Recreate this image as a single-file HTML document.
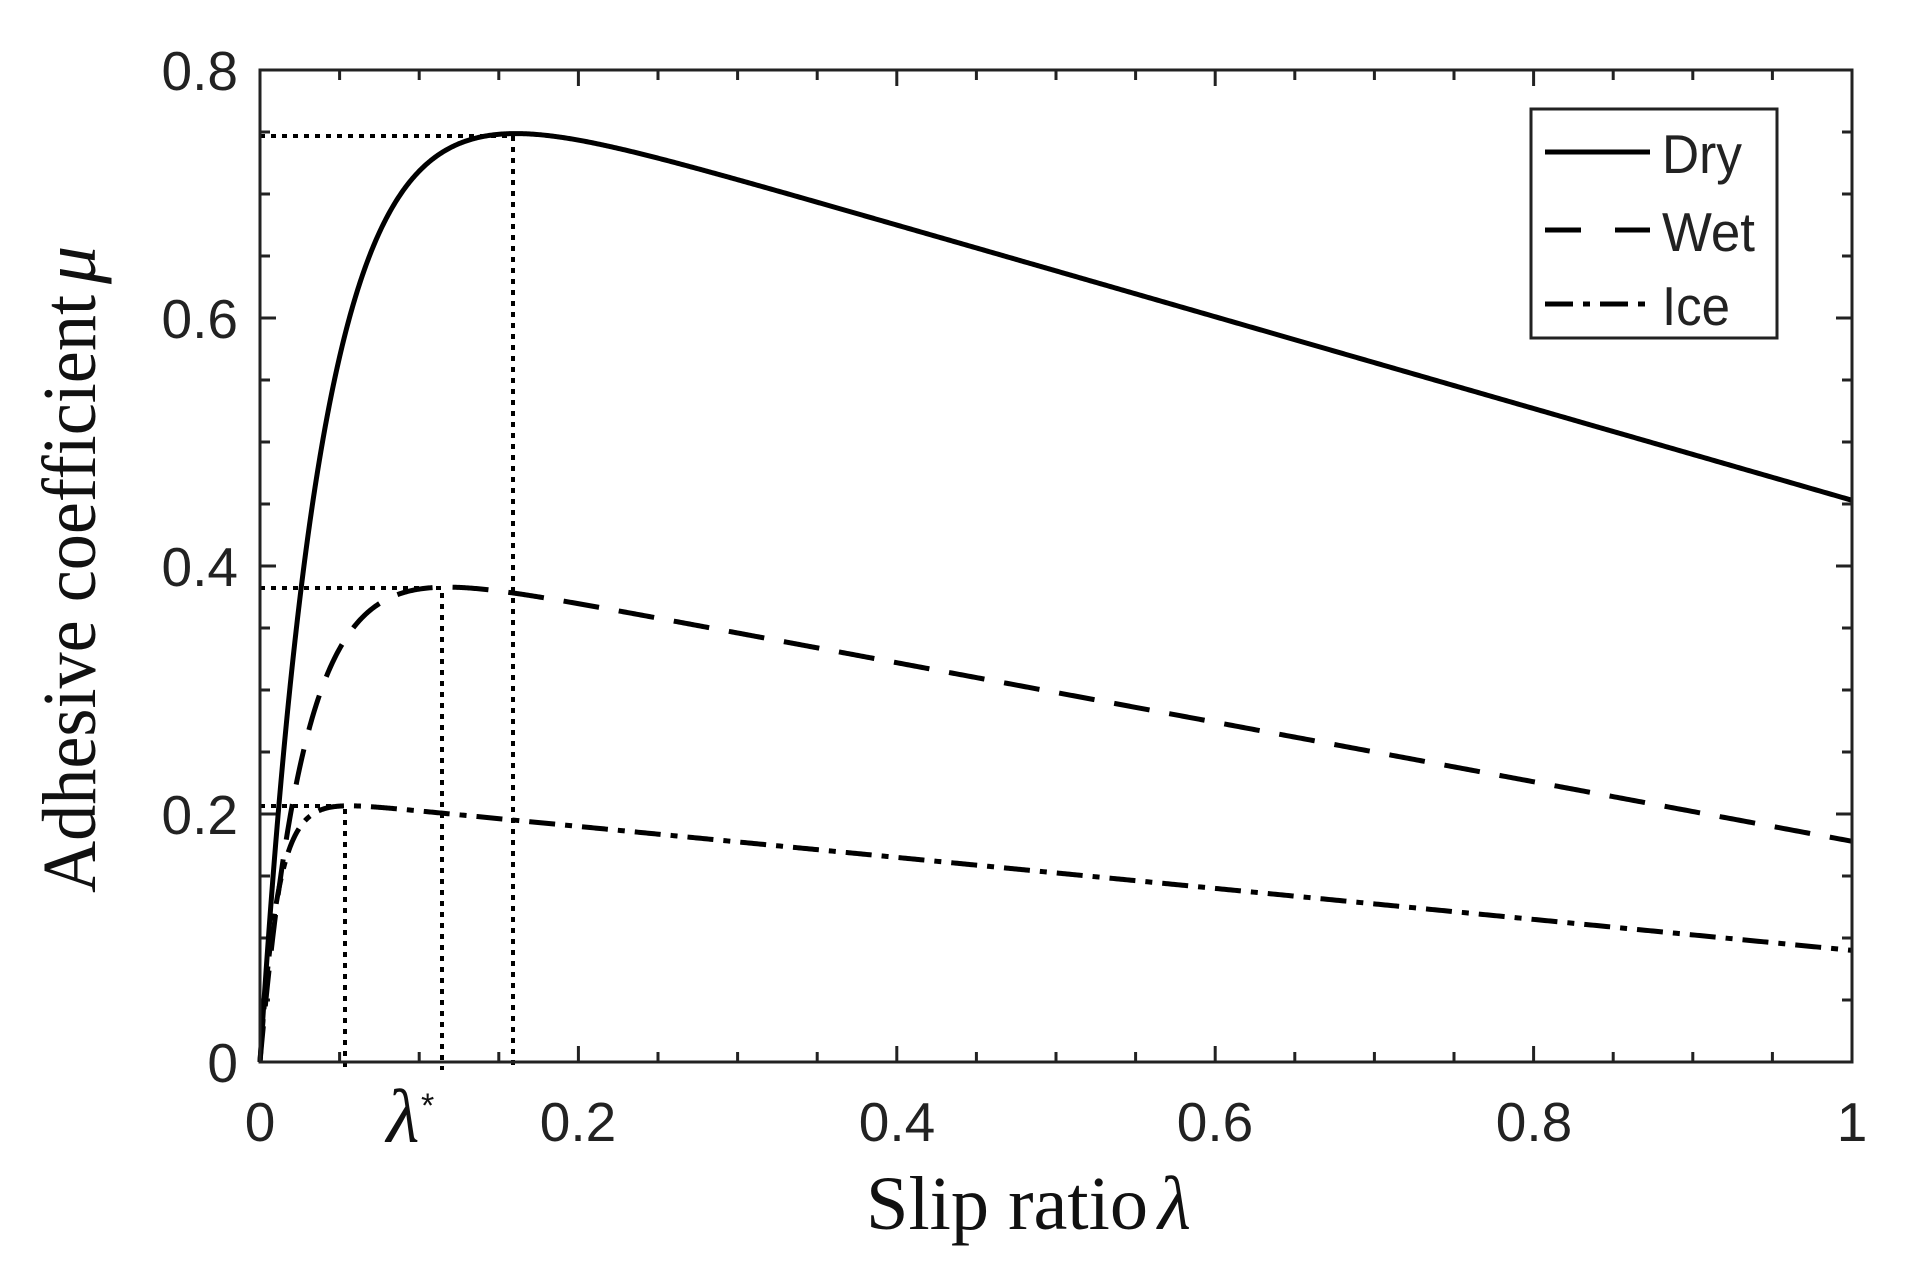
<!DOCTYPE html>
<html><head><meta charset="utf-8"><style>
html,body{margin:0;padding:0;background:#fff;}
svg{display:block}
.tk{font-family:"Liberation Sans",Arial,sans-serif;font-size:55px;fill:#222}
.ser{font-family:"Liberation Serif","Times New Roman",serif;font-size:76px;fill:#111}
</style></head><body>
<svg id="s" width="1927" height="1286" viewBox="0 0 1927 1286" xmlns="http://www.w3.org/2000/svg">
<rect width="1927" height="1286" fill="#fff"/>
<g id="ticks" stroke="#222" stroke-width="3"></g>
<g fill="none" stroke="#000" stroke-width="4" stroke-dasharray="5 6" stroke-linecap="butt">
<polyline points="260,136 513,136 513,1070"/>
<polyline points="260,588 442,588 442,1070"/>
<polyline points="260,806 345,806 345,1070"/>
</g>
<path id="dry" fill="none" stroke="#000" stroke-width="5"/>
<path id="wet" fill="none" stroke="#000" stroke-width="5" stroke-dasharray="36 20"/>
<path id="ice" fill="none" stroke="#000" stroke-width="5" stroke-dasharray="26 10 7 10"/>
<rect x="260" y="70" width="1592" height="992" fill="none" stroke="#222" stroke-width="3"/>
<g class="tk" text-anchor="end">
<text x="238" y="1082">0</text>
<text x="238" y="834">0.2</text>
<text x="238" y="586">0.4</text>
<text x="238" y="338">0.6</text>
<text x="238" y="90">0.8</text>
</g>
<g class="tk" text-anchor="middle">
<text x="260" y="1141">0</text>
<text x="578" y="1141">0.2</text>
<text x="897" y="1141">0.4</text>
<text x="1215" y="1141">0.6</text>
<text x="1534" y="1141">0.8</text>
<text x="1852" y="1141">1</text>
</g>
<text x="403" y="1142" class="ser" font-style="italic" text-anchor="middle" font-size="72">λ</text>
<text x="421" y="1117" font-family="Liberation Sans, sans-serif" font-size="34" fill="#111">*</text>
<text x="866" y="1229" class="ser" textLength="282" lengthAdjust="spacingAndGlyphs">Slip ratio</text>
<text x="1158" y="1229" class="ser" font-style="italic">λ</text>
<g transform="translate(95,570) rotate(-90)">
<text x="-323" y="0" class="ser" textLength="598" lengthAdjust="spacingAndGlyphs">Adhesive coefficient</text>
<text x="286" y="0" class="ser" font-style="italic">μ</text>
</g>
<rect x="1531" y="109" width="246" height="229" fill="#fff" stroke="#222" stroke-width="3"/>
<g stroke="#000" stroke-width="5">
<line x1="1545" y1="152" x2="1650" y2="152"/>
<line x1="1545" y1="230" x2="1650" y2="230" stroke-dasharray="36 34"/>
<line x1="1545" y1="304" x2="1650" y2="304" stroke-dasharray="28 10 7 10"/>
</g>
<g class="tk" font-size="56" fill="#111">
<text x="1662" y="173" textLength="80" lengthAdjust="spacingAndGlyphs">Dry</text>
<text x="1662" y="251" textLength="93" lengthAdjust="spacingAndGlyphs">Wet</text>
<text x="1662" y="325" textLength="68" lengthAdjust="spacingAndGlyphs">Ice</text>
</g>
</svg>
<script>
var X=function(l){return 260+l*1592},Y=function(m){return 1062-m*1240};
function mk(c1,c2,c3){var d="";for(var i=0;i<=1000;i++){var l=Math.pow(i/1000,1.6);var m=c1*(1-Math.exp(-c2*l))-c3*l;d+=(i?"L":"M")+X(l).toFixed(2)+","+Y(m).toFixed(2);}return d;}
document.getElementById("dry").setAttribute("d",mk(0.823,25,0.37));
document.getElementById("wet").setAttribute("d",mk(0.418,35,0.24));
document.getElementById("ice").setAttribute("d",mk(0.215,90,0.125));
var g=document.getElementById("ticks"),h="";
for(var i=0;i<=20;i++){var x=X(i*0.05),L=(i%4==0)?16:10;h+='<line x1="'+x+'" y1="1062" x2="'+x+'" y2="'+(1062-L)+'"/><line x1="'+x+'" y1="70" x2="'+x+'" y2="'+(70+L)+'"/>';}
for(var j=0;j<=16;j++){var y=Y(j*0.05),L2=(j%4==0)?16:10;h+='<line x1="260" y1="'+y+'" x2="'+(260+L2)+'" y2="'+y+'"/><line x1="1852" y1="'+y+'" x2="'+(1852-L2)+'" y2="'+y+'"/>';}
g.innerHTML=h;
</script>
</body></html>
